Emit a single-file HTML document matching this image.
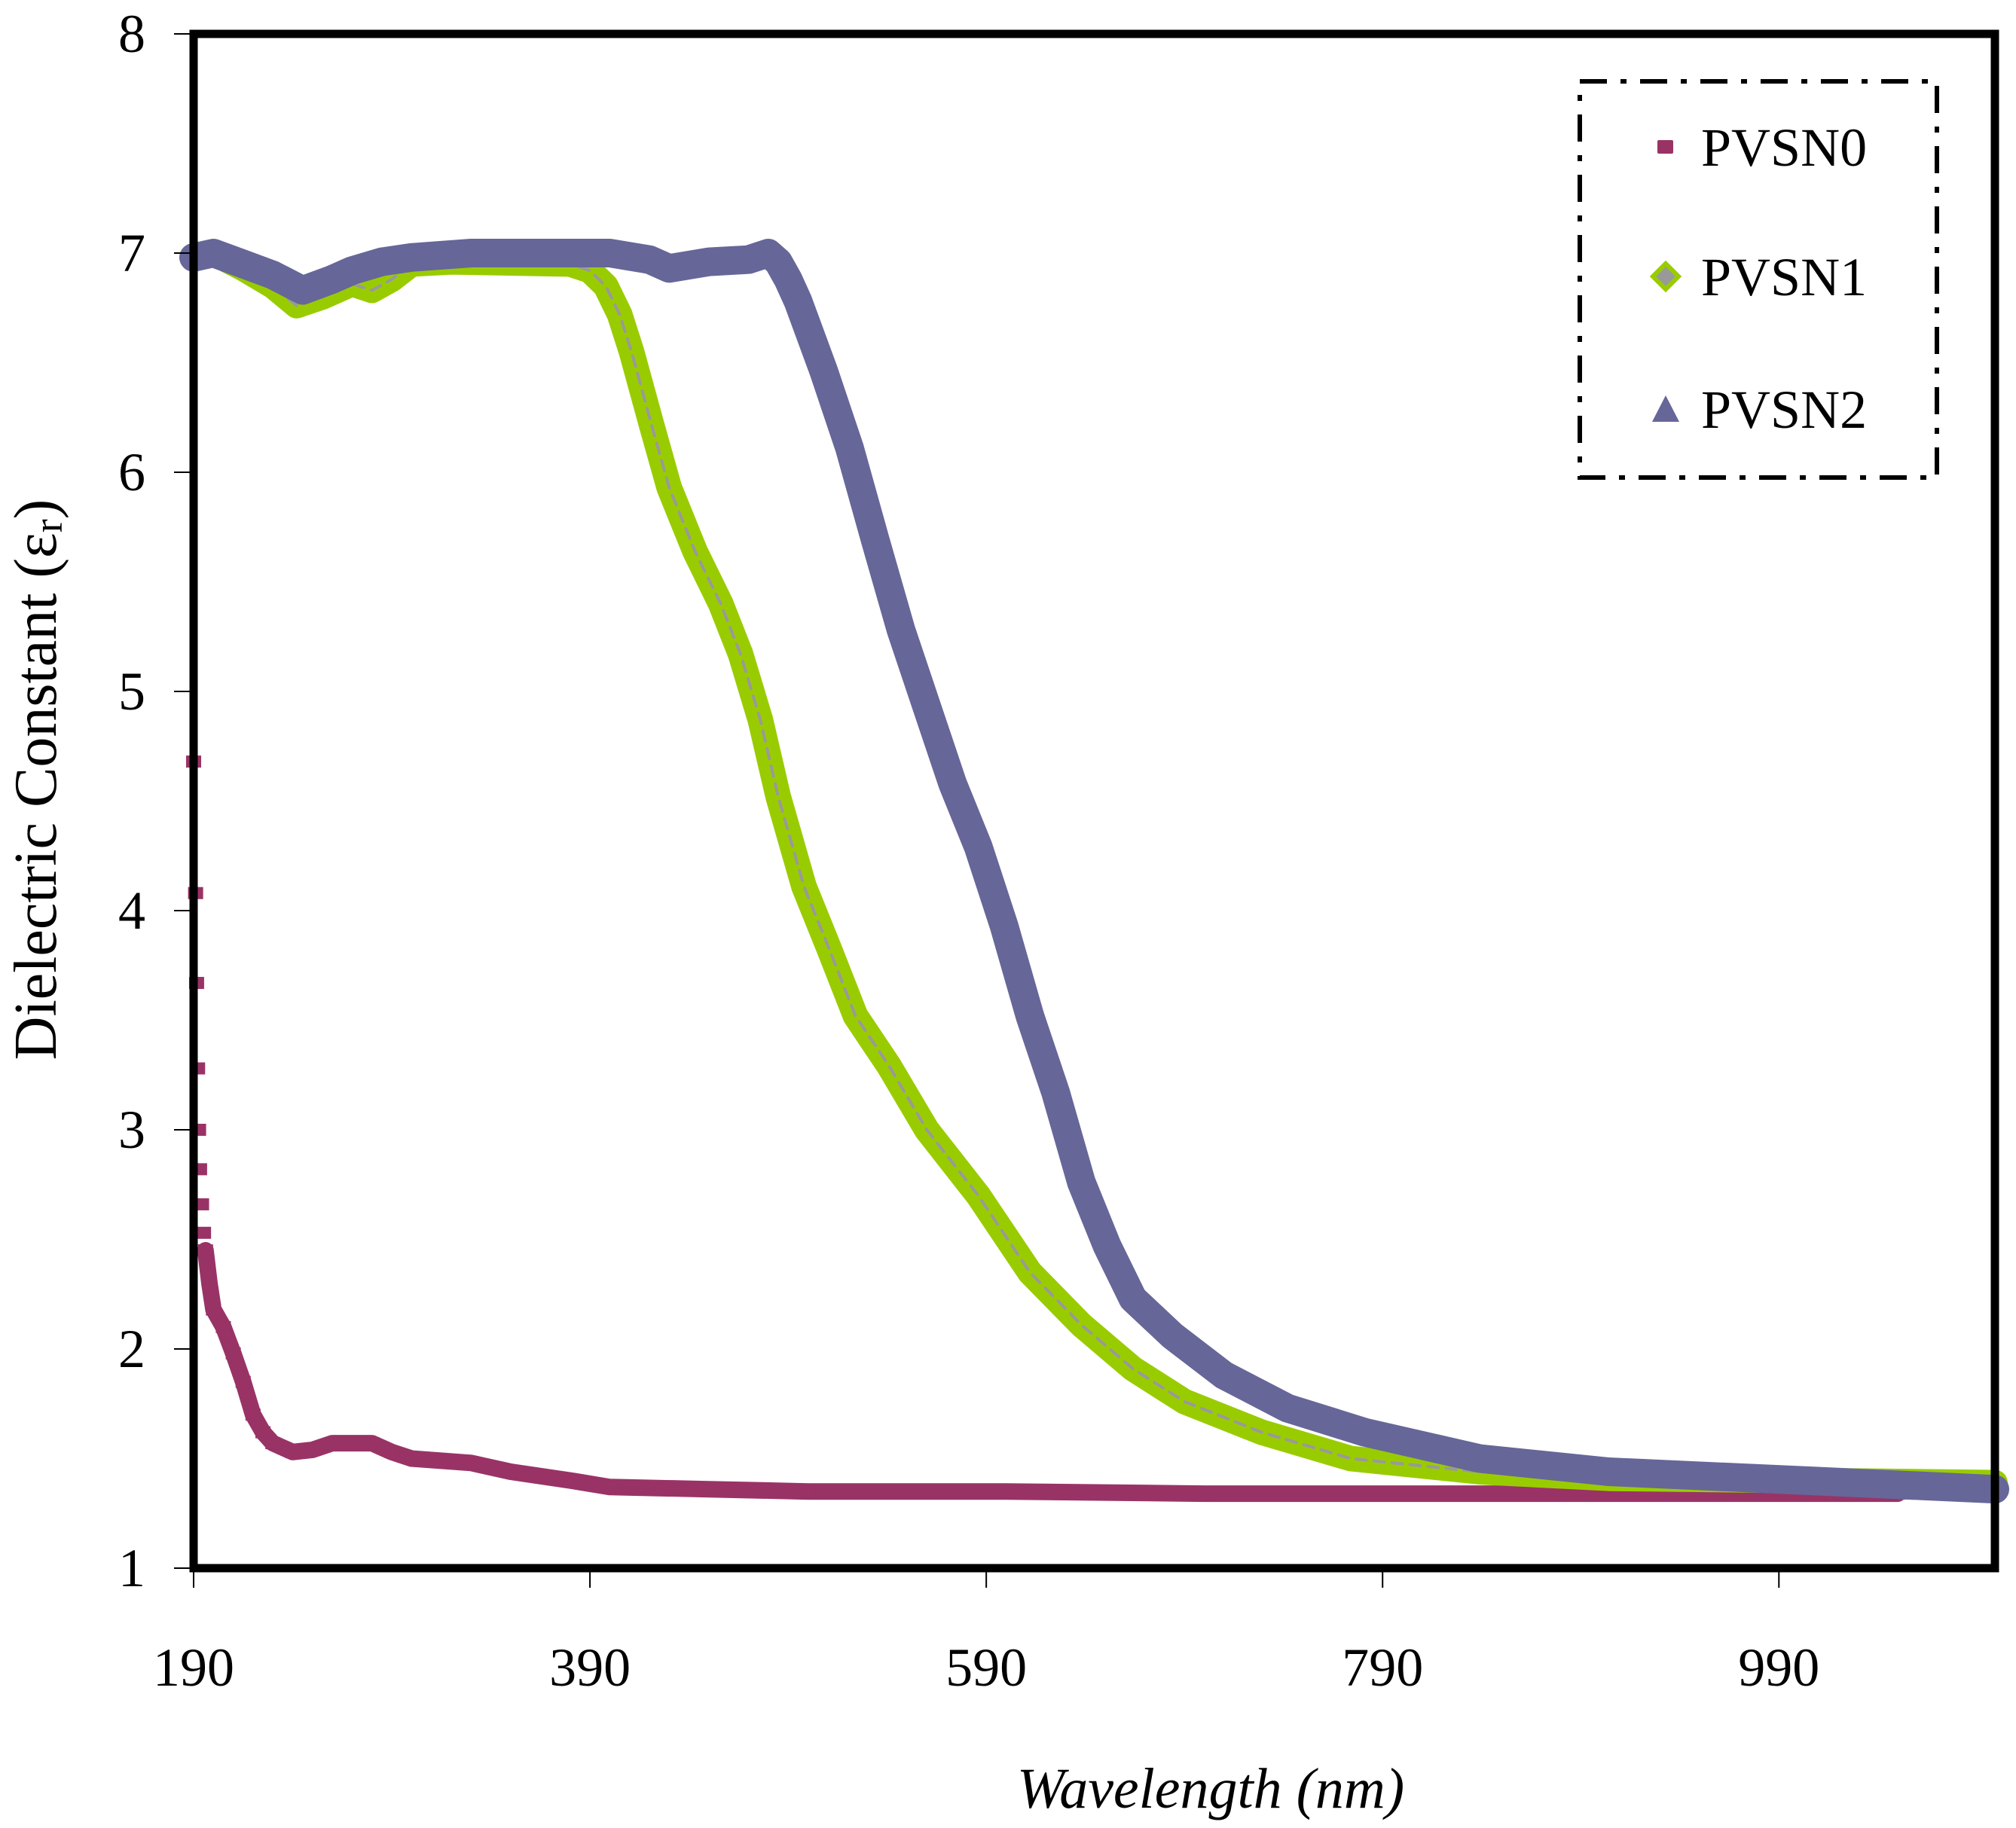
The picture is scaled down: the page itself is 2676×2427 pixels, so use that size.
<!DOCTYPE html>
<html><head><meta charset="utf-8"><style>
html,body{margin:0;padding:0;background:#fff;}
svg{display:block;}
text{font-family:"Liberation Serif","DejaVu Serif",serif;fill:#000;}
</style></head><body>
<svg id="chart" width="2676" height="2427" viewBox="0 0 2676 2427" xmlns="http://www.w3.org/2000/svg">
<g id="series"></g>
<rect x="257" y="45" width="2391" height="2037" fill="none" stroke="#000" stroke-width="11"/>
<g id="axes"></g>
<text x="1607" y="2400" font-size="76" font-style="italic" text-anchor="middle">Wavelength (nm)</text>
<text transform="translate(74,1035) rotate(-90)" font-size="80" text-anchor="middle">Dielectric Constant (ε<tspan font-size="54" dy="8">r</tspan><tspan dy="-8">)</tspan></text>
<g>
<rect x="2097" y="108" width="474" height="526" fill="none" stroke="#000" stroke-width="6" stroke-dasharray="36,18,8,18"/>
<rect x="2200" y="186" width="21" height="18" rx="2" fill="#993366"/>
<text x="2258" y="220" font-size="72">PVSN0</text>
<polygon points="2211,350 2228,367 2211,384 2194,367" fill="#999" stroke="#99cc00" stroke-width="6"/>
<text x="2258" y="392" font-size="72">PVSN1</text>
<polygon points="2211,525 2229,560 2193,560" fill="#666699"/>
<text x="2258" y="568" font-size="72">PVSN2</text>
</g>
<script>
const xTicks=[190,390,590,790,990];
const yTicks=[1,2,3,4,5,6,7,8];
const p0x=[190,191,191.5,192,192.5,193,194,195,196,198,200,205,210,215,220,225,230,240,250,260,280,290,300,330,350,380,400,450,500,600,700,1050];
const p0y=[4.68,4.08,3.67,3.28,3.0,2.82,2.66,2.53,2.45,2.3,2.18,2.1,1.98,1.85,1.7,1.62,1.57,1.53,1.54,1.57,1.57,1.53,1.5,1.48,1.44,1.4,1.37,1.36,1.35,1.35,1.34,1.34];
const p1x=[190,200,215,230,242,255,270,280,290,300,320,380,390,398,405,411,421,430,443,456,466,476,485,498,511,524,541,560,586,612,638,664,690,729,774,839,904,1002,1099];
const p1y=[6.98,7.0,6.93,6.85,6.76,6.8,6.86,6.83,6.88,6.95,6.96,6.95,6.92,6.85,6.72,6.55,6.22,5.93,5.64,5.4,5.17,4.87,4.52,4.11,3.82,3.52,3.29,3.0,2.7,2.35,2.11,1.91,1.76,1.62,1.5,1.44,1.41,1.4,1.39];
const p2x=[190,200,215,230,245,260,270,285,300,330,400,420,430,450,470,480,485,490,495,508,521,534,547,560,573,586,599,612,625,638,651,664,684,710,742,781,839,904,1002,1099];
const p2y=[6.98,7.0,6.95,6.9,6.83,6.88,6.92,6.96,6.98,7.0,7.0,6.97,6.93,6.96,6.97,7.0,6.96,6.88,6.78,6.46,6.11,5.69,5.28,4.93,4.58,4.29,3.93,3.52,3.17,2.76,2.47,2.23,2.06,1.88,1.73,1.62,1.5,1.44,1.4,1.36];
const X0=257,X1=2648,Y0=2082,Y1=45,XMIN=190,XMAX=1099,YMIN=1,YMAX=8;
function sx(v){return X0+(v-XMIN)*(X1-X0)/(XMAX-XMIN);}
function sy(v){return Y0-(v-YMIN)*(Y0-Y1)/(YMAX-YMIN);}
const NS="http://www.w3.org/2000/svg";
const axes=document.getElementById('axes');
const series=document.getElementById('series');
xTicks.forEach(t=>{
  const l=document.createElementNS(NS,'line');
  
  
  l.setAttribute('x1',sx(t));l.setAttribute('x2',sx(t));l.setAttribute('y1',Y0);l.setAttribute('y2',Y0+26);
  l.setAttribute('stroke','#000');l.setAttribute('stroke-width','2');axes.appendChild(l);
  const tx=document.createElementNS(NS,'text');
  
  
  tx.setAttribute('x',sx(t));tx.setAttribute('y',2238);tx.setAttribute('font-size','72');tx.setAttribute('text-anchor','middle');
  tx.textContent=t;axes.appendChild(tx);
});
yTicks.forEach(t=>{
  const l=document.createElementNS(NS,'line');
  
  
  l.setAttribute('x1',X0-26);l.setAttribute('x2',X0);l.setAttribute('y1',sy(t));l.setAttribute('y2',sy(t));
  l.setAttribute('stroke','#000');l.setAttribute('stroke-width','2');axes.appendChild(l);
  const tx=document.createElementNS(NS,'text');
  
  
  tx.setAttribute('x',193);tx.setAttribute('y',sy(t)+24);tx.setAttribute('font-size','72');tx.setAttribute('text-anchor','end');
  tx.textContent=t;axes.appendChild(tx);
});
function pts(xs,ys){return xs.map((x,i)=>sx(x).toFixed(1)+','+sy(ys[i]).toFixed(1)).join(' ');}
function line(xs,ys,color,w,name,dash){
  const p=document.createElementNS(NS,'polyline');
  
  
  p.setAttribute('points',pts(xs,ys));p.setAttribute('fill','none');p.setAttribute('stroke',color);
  p.setAttribute('stroke-width',w);p.setAttribute('stroke-linejoin','round');p.setAttribute('stroke-linecap','round');
  if(dash)p.setAttribute('stroke-dasharray',dash);
  series.appendChild(p);
}
line(p0x.slice(8),p0y.slice(8),'#993366',22,'series-pvsn0');
p0x.forEach((x,i)=>{
  const r=document.createElementNS(NS,'rect');
  
  
  r.setAttribute('x',sx(x)-10);r.setAttribute('y',sy(p0y[i])-8);r.setAttribute('width',20);r.setAttribute('height',16);
  r.setAttribute('fill','#993366');series.appendChild(r);
});
line(p1x,p1y,'#99cc00',34,'series-pvsn1');
line(p1x,p1y,'#999999',4,'series-pvsn1-center','14,10');
line(p2x,p2y,'#666699',38,'series-pvsn2');
</script>
</svg>
</body></html>
